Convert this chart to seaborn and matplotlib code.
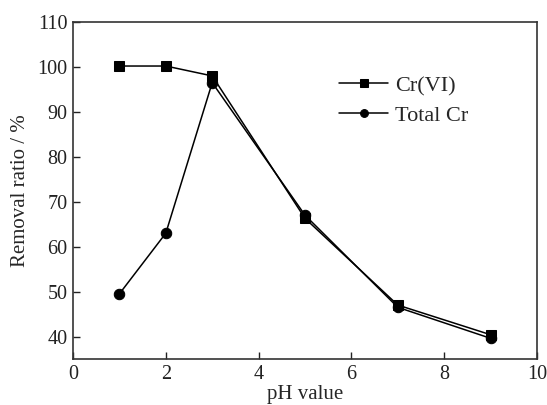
import matplotlib
matplotlib.use("Agg")
import matplotlib.pyplot as plt
import seaborn as sns
import pandas as pd

sns.set_theme(style="white")
plt.rcParams["font.family"] = ["Liberation Serif", "DejaVu Serif"]
plt.rcParams["mathtext.fontset"] = "stix"

ph = [1, 2, 3, 5, 7, 9]
cr6 = [100.2, 100.2, 98.0, 66.3, 47.0, 40.4]
total_cr = [49.5, 63.0, 96.5, 67.0, 46.5, 39.6]
series_names = ["Cr(VI)", "Total Cr"]

df = pd.DataFrame({
    "pH": ph * 2,
    "removal": cr6 + total_cr,
    "series": [series_names[0]] * len(ph) + [series_names[1]] * len(ph),
})

fig = plt.figure(figsize=(5.47, 4.05), dpi=100)
ax = fig.add_axes([0.1335, 0.1136, 0.8482, 0.8321])

sns.lineplot(
    data=df, x="pH", y="removal", hue="series", style="series",
    palette=["black", "black"], markers={"Cr(VI)": "s", "Total Cr": "o"},
    dashes=False, markersize=7.5, linewidth=1.1, markeredgecolor="black",
    ax=ax, legend=True,
)

ax.set_xlim(0, 10)
ax.set_ylim(35, 110)
ax.set_xticks([0, 2, 4, 6, 8, 10])
ax.set_yticks([40, 50, 60, 70, 80, 90, 100, 110])
ax.tick_params(axis="both", direction="in", length=5, width=1, labelsize=14.5,
               colors="#222222", top=False, right=False, bottom=True, left=True, pad=4)
for s in ax.spines.values():
    s.set_color("#333333")
    s.set_linewidth(1.2)

ax.set_xlabel("pH value", fontsize=15, labelpad=1)
ax.set_ylabel("Removal ratio / %", fontsize=15, labelpad=5)

leg = ax.legend(loc="upper left", bbox_to_anchor=(0.531, 0.90), frameon=False,
                fontsize=16, handlelength=2.2, handletextpad=0.3, labelspacing=0.4,
                markerscale=0.75)

fig.savefig("out.png", dpi=100)
